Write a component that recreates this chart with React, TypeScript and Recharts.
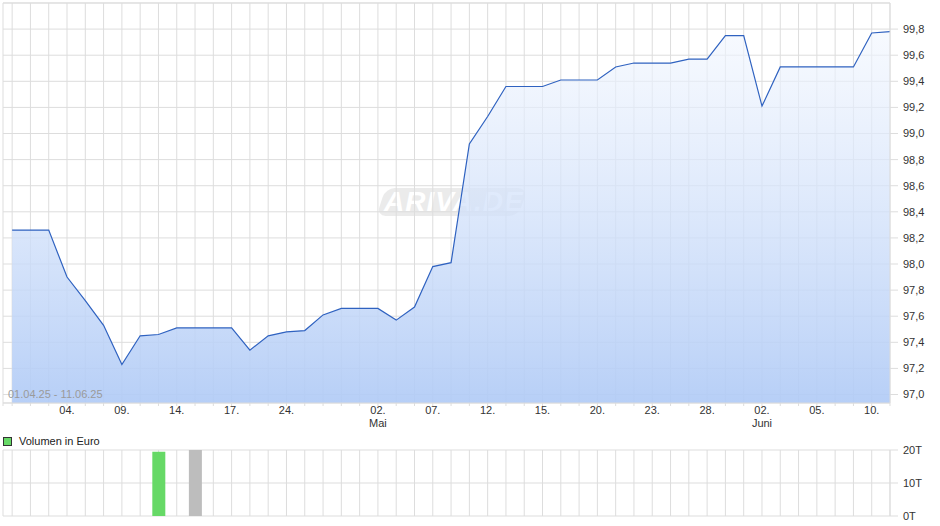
import React from "react";
import {
  ComposedChart,
  Area,
  Bar,
  Cell,
  XAxis,
  YAxis,
  CartesianGrid,
  ReferenceLine,
} from "recharts";

// trading days 01.04.25 - 11.06.25
const dates = [
  "01.04.", "02.04.", "03.04.", "04.04.", "07.04.", "08.04.", "09.04.", "10.04.", "11.04.",
  "14.04.", "15.04.", "16.04.", "17.04.", "22.04.", "23.04.", "24.04.", "25.04.", "28.04.",
  "29.04.", "30.04.", "02.05.", "05.05.", "06.05.", "07.05.", "08.05.", "09.05.", "12.05.",
  "13.05.", "14.05.", "15.05.", "16.05.", "19.05.", "20.05.", "21.05.", "22.05.", "23.05.",
  "26.05.", "27.05.", "28.05.", "29.05.", "30.05.", "02.06.", "03.06.", "04.06.", "05.06.",
  "06.06.", "09.06.", "10.06.", "11.06.",
];

const prices = [
  98.26, 98.26, 98.26, 97.9, 97.72, 97.53, 97.23, 97.45, 97.46,
  97.51, 97.51, 97.51, 97.51, 97.34, 97.45, 97.48, 97.49, 97.61,
  97.66, 97.66, 97.66, 97.57, 97.67, 97.98, 98.01, 98.92, 99.13,
  99.36, 99.36, 99.36, 99.41, 99.41, 99.41, 99.51, 99.54, 99.54,
  99.54, 99.57, 99.57, 99.75, 99.75, 99.21, 99.51, 99.51, 99.51,
  99.51, 99.51, 99.77, 99.78,
];

// volume in euro
const volumes = [
  0, 0, 0, 0, 0, 0, 0, 0, 19500,
  0, 20000, 0, 0, 0, 0, 0, 0, 0,
  0, 0, 0, 0, 0, 0, 0, 0, 0,
  0, 0, 0, 0, 0, 0, 0, 0, 0,
  0, 0, 0, 0, 0, 0, 0, 0, 0,
  0, 0, 0, 0,
];

const xTickDates = [
  "04.04.", "09.04.", "14.04.", "17.04.", "24.04.", "02.05.", "07.05.", "12.05.",
  "15.05.", "20.05.", "23.05.", "28.05.", "02.06.", "05.06.", "10.06.",
];
const monthLabels: Record<string, string> = { "02.05.": "Mai", "02.06.": "Juni" };

const priceTicks = [97.0, 97.2, 97.4, 97.6, 97.8, 98.0, 98.2, 98.4, 98.6, 98.8, 99.0, 99.2, 99.4, 99.6, 99.8];
const volumeTicks = [0, 10000, 20000];

const data = dates.map((d, i) => ({ i, date: d, price: prices[i], volume: volumes[i] }));
const gridTicks = [-0.5, ...dates.map((_, i) => i)];

const font = "'Liberation Sans', Arial, sans-serif";
const gridColor = "#dddddd";

function volColor(i: number) {
  if (i === 0 || prices[i] === prices[i - 1]) return "#bdbdbd";
  return prices[i] > prices[i - 1] ? "#66d966" : "#e05a5a";
}

function DateTick({ x, y, payload }: any) {
  const d = dates[payload.value];
  if (d === undefined || !xTickDates.includes(d)) return <g />;
  return (
    <g>
      <text x={x} y={y + 6} textAnchor="middle" fontSize={11} fill="#333" fontFamily={font}>
        {d.slice(0, 3)}
      </text>
      {monthLabels[d] && (
        <text x={x} y={y + 19} textAnchor="middle" fontSize={11} fill="#333" fontFamily={font}>
          {monthLabels[d]}
        </text>
      )}
    </g>
  );
}

const EmptyTick = () => <g />;

export default function App() {
  return (
    <div style={{ position: "absolute", left: 0, top: 0, width: 940, height: 526, fontFamily: font, background: "#fff" }}>
      {/* watermark */}
      <div
        style={{
          position: "absolute",
          left: 381,
          top: 188,
          width: 142,
          height: 28,
          borderRadius: 9,
          background: "rgba(0,0,0,0.08)",
          transform: "skewX(-18deg)",
        }}
      />
      <div
        style={{
          position: "absolute",
          left: 384,
          top: 186,
          width: 138,
          textAlign: "center",
          fontSize: 28,
          fontWeight: "bold",
          fontStyle: "italic",
          color: "#ffffff",
          lineHeight: "32px",
          letterSpacing: 1,
        }}
      >
        ARIVA.DE
      </div>

      <div style={{ position: "absolute", left: 0, top: 0 }}>
        <ComposedChart width={940} height={430} data={data} margin={{ top: 3, right: 0, left: 3, bottom: 0 }}>
          <defs>
            <linearGradient id="priceFill" x1="0" y1="3" x2="0" y2="402" gradientUnits="userSpaceOnUse">
              <stop offset="0%" stopColor="#f7faff" stopOpacity={0.6} />
              <stop offset="100%" stopColor="#b1cbf6" stopOpacity={0.92} />
            </linearGradient>
          </defs>
          <CartesianGrid stroke={gridColor} />
          <XAxis
            type="number"
            dataKey="i"
            domain={[-0.5, 48]}
            ticks={gridTicks}
            interval={0}
            allowDataOverflow
            tick={<DateTick />}
            tickSize={3}
            tickLine={{ stroke: gridColor }}
            axisLine={{ stroke: gridColor }}
            height={27}
          />
          <YAxis
            orientation="right"
            domain={[96.935, 100]}
            allowDataOverflow
            ticks={priceTicks}
            interval={0}
            width={50}
            tickSize={8}
            tickMargin={5}
            tickLine={{ stroke: gridColor }}
            axisLine={{ stroke: gridColor }}
            tick={{ fontSize: 11, fill: "#333", fontFamily: font }}
            tickFormatter={(v: number) => v.toFixed(1).replace(".", ",")}
          />
          <ReferenceLine y={100} stroke={gridColor} />
          <Area
            type="linear"
            dataKey="price"
            stroke="#2f62c0"
            strokeWidth={1.2}
            fill="url(#priceFill)"
            fillOpacity={1}
            dot={false}
            activeDot={false}
            isAnimationActive={false}
          />
        </ComposedChart>
      </div>

      <div style={{ position: "absolute", left: 0, top: 440 }}>
        <ComposedChart width={940} height={86} data={data} margin={{ top: 10, right: 0, left: 3, bottom: 10 }}>
          <CartesianGrid stroke={gridColor} />
          <XAxis
            type="number"
            dataKey="i"
            domain={[-0.5, 48]}
            ticks={gridTicks}
            interval={0}
            allowDataOverflow
            tick={<EmptyTick />}
            tickLine={false}
            axisLine={false}
            height={0}
          />
          <YAxis
            orientation="right"
            domain={[0, 20000]}
            allowDataOverflow
            ticks={volumeTicks}
            interval={0}
            width={50}
            tickSize={8}
            tickMargin={5}
            tickLine={{ stroke: gridColor }}
            axisLine={{ stroke: gridColor }}
            tick={{ fontSize: 11, fill: "#333", fontFamily: font }}
            tickFormatter={(v: number) => `${v / 1000}T`}
          />
          <Bar dataKey="volume" barSize={13} isAnimationActive={false}>
            {data.map((d) => (
              <Cell key={d.i} fill={volColor(d.i)} />
            ))}
          </Bar>
        </ComposedChart>
      </div>

      {/* date range label */}
      <div style={{ position: "absolute", left: 8, top: 388, fontSize: 11, color: "#9a9a9a", whiteSpace: "nowrap" }}>
        01.04.25 - 11.06.25
      </div>

      {/* volume legend */}
      <div style={{ position: "absolute", left: 3, top: 435, display: "flex", alignItems: "center", fontSize: 11, color: "#222" }}>
        <span style={{ display: "inline-block", width: 7, height: 7, background: "#66d966", border: "1px solid #333", marginRight: 7 }} />
        <span>Volumen in Euro</span>
      </div>
    </div>
  );
}
